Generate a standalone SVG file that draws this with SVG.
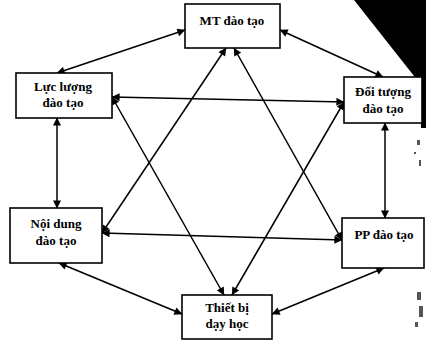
<svg xmlns="http://www.w3.org/2000/svg" width="426" height="341" viewBox="0 0 426 341">
<defs>
<style>
.box{fill:#fff;stroke:#000;stroke-width:1.6}
.t{font-family:"Liberation Serif","Times New Roman",serif;font-weight:bold;font-size:13px;fill:#000;text-anchor:middle}
.c line{stroke:#000;stroke-width:1.5;fill:none;marker-start:url(#ah);marker-end:url(#ah)}
</style>
<marker id="ah" viewBox="0 0 10 10" refX="9.5" refY="5" markerWidth="9" markerHeight="8" markerUnits="userSpaceOnUse" orient="auto-start-reverse">
<path d="M0,0 L10,5 L0,10 z" fill="#000"/>
</marker>
</defs>
<rect width="426" height="341" fill="#fff"/>
<polygon points="354,0 426,0 426,128 421,128 420,82 414,76" fill="#000"/>
<g fill="#555">
<rect x="417" y="140" width="3" height="5"/>
<rect x="414" y="152" width="2" height="2"/>
<rect x="419" y="160" width="2" height="6"/>
<rect x="417" y="292" width="4" height="8"/>
<rect x="419" y="306" width="4" height="11"/>
<rect x="415" y="322" width="3" height="5"/>
</g>
<g class="c">
<line x1="185" y1="30" x2="57" y2="73"/>
<line x1="280" y1="30" x2="383" y2="77"/>
<line x1="57" y1="118" x2="57" y2="208"/>
<line x1="385" y1="123" x2="385" y2="218"/>
<line x1="59" y1="263" x2="182" y2="314"/>
<line x1="384" y1="268" x2="272" y2="314"/>
<line x1="226" y1="48" x2="102" y2="233"/>
<line x1="234" y1="48" x2="342" y2="240"/>
<line x1="102" y1="233" x2="342" y2="240"/>
<line x1="112" y1="97" x2="344" y2="102"/>
<line x1="112" y1="97" x2="224" y2="295"/>
<line x1="344" y1="102" x2="232" y2="295"/>
</g>
<g id="mt"><rect class="box" x="185" y="4" width="95" height="44"/><text class="t" x="232" y="25">MT đào tạo</text></g>
<g id="luc-luong"><rect class="box" x="16" y="73" width="96" height="45"/><text class="t" x="63" y="91">Lực lượng</text><text class="t" x="63" y="107">đào tạo</text></g>
<g id="doi-tuong"><rect class="box" x="344" y="77" width="78" height="46"/><text class="t" x="383" y="96">Đối tượng</text><text class="t" x="383" y="113">đào tạo</text></g>
<g id="noi-dung"><rect class="box" x="10" y="208" width="92" height="55"/><text class="t" x="56" y="228">Nội dung</text><text class="t" x="56" y="245">đào tạo</text></g>
<g id="pp"><rect class="box" x="342" y="218" width="82" height="50"/><text class="t" x="384" y="239">PP đào tạo</text></g>
<g id="thiet-bi"><rect class="box" x="182" y="295" width="90" height="44"/><text class="t" x="227" y="312">Thiết bị</text><text class="t" x="227" y="328">dạy học</text></g>
</svg>
